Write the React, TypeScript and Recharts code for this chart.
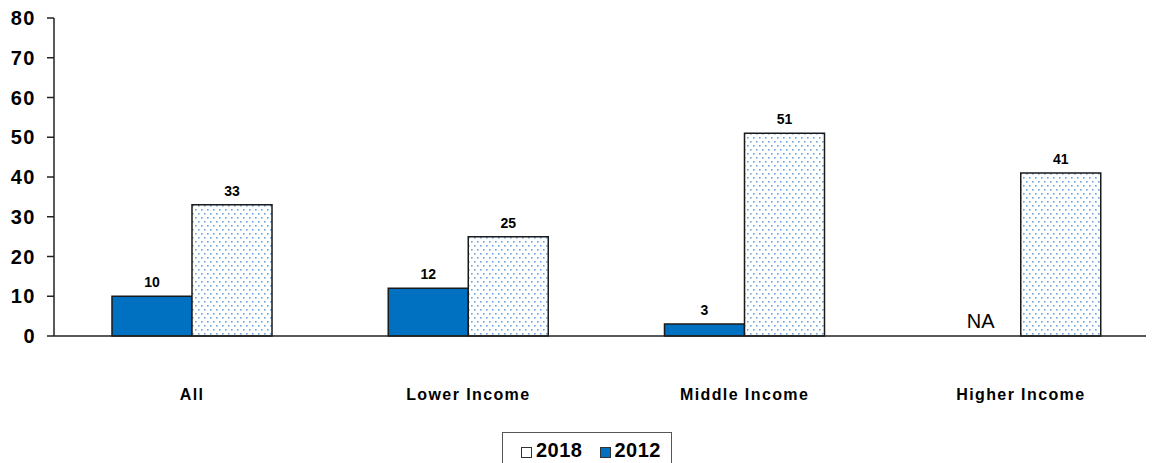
import React from "react";
import { BarChart, Bar, XAxis, YAxis, LabelList, Legend } from "recharts";

const categories = ["All", "Lower Income", "Middle Income", "Higher Income"];
const values2012: (number | null)[] = [10, 12, 3, null];
const values2018: number[] = [33, 25, 51, 41];
const yTicks = [0, 10, 20, 30, 40, 50, 60, 70, 80];

const data = categories.map((c, i) => ({ name: c, y2012: values2012[i], y2018: values2018[i] }));

const FONT = "'Liberation Sans', Arial, sans-serif";

const CatTick = (props: any) => {
  const { x, y, payload } = props;
  return (
    <text x={x} y={y + 56} textAnchor="middle" fontFamily={FONT} fontWeight="bold" fontSize={16} letterSpacing={1.4} fill="#000">
      {payload.value}
    </text>
  );
};

const YTick = (props: any) => {
  const { x, y, payload } = props;
  return (
    <text x={x - 9} y={y + 7} textAnchor="end" fontFamily={FONT} fontWeight="bold" fontSize={20} letterSpacing={1.5} fill="#000">
      {payload.value}
    </text>
  );
};

const Label2012 = (props: any) => {
  const { x, y, width, value } = props;
  if (value === null || value === undefined) return null;
  return (
    <text x={x + width / 2} y={y - 9} textAnchor="middle" fontFamily={FONT} fontWeight="bold" fontSize={14} fill="#000">
      {value}
    </text>
  );
};

const Label2018 = (props: any) => {
  const { x, y, width, value } = props;
  return (
    <text x={x + width / 2} y={y - 9} textAnchor="middle" fontFamily={FONT} fontWeight="bold" fontSize={14} fill="#000">
      {value}
    </text>
  );
};

// Draws "NA" in the 2012 slot (left of the 2018 bar) where 2012 has no value
const NALabel = (props: any) => {
  const { x, width, value, viewBox } = props;
  if (value !== "NA") return null;
  const vb = viewBox || {};
  const baseY = (vb.y ?? 0) + (vb.height ?? 0);
  const bx = (x ?? vb.x) as number;
  const bw = (width ?? vb.width) as number;
  return (
    <text x={bx - bw / 2} y={baseY - 8} textAnchor="middle" fontFamily={FONT} fontSize={20} fill="#000">
      NA
    </text>
  );
};

const LegendBox = () => (
  <div
    style={{
      width: 170,
      height: 40,
      border: "1.5px solid #555",
      boxSizing: "border-box",
      display: "flex",
      alignItems: "flex-start",
      paddingTop: 6,
      paddingLeft: 18,
      fontFamily: FONT,
      fontWeight: "bold",
      fontSize: 20,
      letterSpacing: 0.5,
      color: "#000",
    }}
  >
    <span style={{ display: "inline-block", width: 9, height: 9, border: "1px solid #333", background: "#fff", marginTop: 8, marginRight: 4 }} />
    <span style={{ marginRight: 17 }}>2018</span>
    <span style={{ display: "inline-block", width: 9, height: 9, border: "1px solid #333", background: "#0070C0", marginTop: 8, marginRight: 4 }} />
    <span>2012</span>
  </div>
);

export default function App() {
  return (
    <div style={{ width: 1146, height: 455, overflow: "hidden" }}>
      <BarChart
        width={1160}
        height={470}
        data={data}
        margin={{ top: 10, right: 9, left: 6, bottom: 0 }}
        barGap={0}
        barSize={80}
      >
        <defs>
          <pattern id="dots" x="0" y="0" width="6" height="8" patternUnits="userSpaceOnUse">
            <rect width="6" height="8" fill="#fff" />
            <rect x="1" y="1" width="1.6" height="1.6" fill="#6ea5dc" />
            <rect x="4" y="5" width="1.6" height="1.6" fill="#6ea5dc" />
          </pattern>
        </defs>
        <XAxis
          dataKey="name"
          tickLine={false}
          axisLine={{ stroke: "#222", strokeWidth: 1.5 }}
          tick={<CatTick />}
          height={102}
          interval={0}
        />
        <YAxis
          domain={[0, 80]}
          ticks={yTicks}
          width={40}
          axisLine={{ stroke: "#222", strokeWidth: 1.5 }}
          tickLine={{ stroke: "#222", strokeWidth: 1.5 }}
          tickSize={7}
          tick={<YTick />}
          interval={0}
        />
        <Legend
          verticalAlign="bottom"
          content={<LegendBox />}
          wrapperStyle={{ top: 424, left: 494, width: 170 }}
        />
        <Bar dataKey="y2012" name="2012" fill="#0070C0" stroke="#1a1a1a" strokeWidth={1.5} isAnimationActive={false}>
          <LabelList dataKey="y2012" content={<Label2012 />} />
        </Bar>
        <Bar dataKey="y2018" name="2018" fill="url(#dots)" stroke="#1a1a1a" strokeWidth={1.5} isAnimationActive={false}>
          <LabelList dataKey="y2018" content={<Label2018 />} />
          <LabelList
            valueAccessor={(entry: any) => (entry?.payload?.y2012 == null ? "NA" : "")}
            content={<NALabel />}
          />
        </Bar>
      </BarChart>
    </div>
  );
}
